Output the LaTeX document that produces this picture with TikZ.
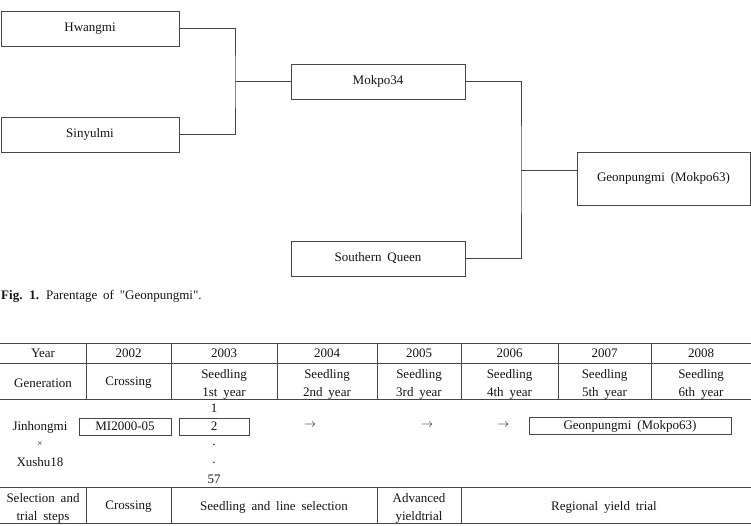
\documentclass[tikz,border=0pt]{standalone}
\usepackage{fontspec}
\setmainfont{Liberation Serif}[WordSpace=1.8]
\usepackage{tikz}
\usetikzlibrary{positioning, calc}
\definecolor{mydark}{RGB}{20,20,20}
\definecolor{myline}{RGB}{70,70,70}
\tikzset{
  cultivar/.style={rectangle, draw=myline, fill=white, line width=0.9pt,
    minimum height=35pt, inner sep=0pt, text=mydark,
    font=\fontsize{13}{15}\selectfont},
  cell/.style={inner sep=0pt, align=center, text=mydark,
    font=\fontsize{13}{18}\selectfont},
  linebox/.style={rectangle, draw=myline, line width=0.9pt, inner sep=0pt,
    minimum height=17pt, text=mydark, font=\fontsize{13}{15}\selectfont},
  link/.style={draw=myline, line width=0.9pt},
  rule/.style={draw=myline, line width=0.9pt}
}

\begin{document}
\begin{tikzpicture}[x=1pt, y=-1pt]
  \useasboundingbox (0,0) rectangle (751,525);

  % Parentage tree
  \node[cultivar, minimum width=178pt] (hwangmi) at (90,28.5) {Hwangmi};
  \node[cultivar, minimum width=178pt] (sinyulmi) at (90,134.5) {Sinyulmi};
  \node[cultivar, minimum width=174pt] (mokpo34) at (378,81.5) {Mokpo34};
  \node[cultivar, minimum width=174pt] (squeen) at (378,258.5) {Southern Queen};
  \node[cultivar, minimum width=173pt, minimum height=53pt] (geon) at (663.5,178.5) {Geonpungmi (Mokpo63)};

  \coordinate (j1) at (235,81.5);
  \coordinate (j2) at (521,170);

  % Crosses
  \draw[link] (hwangmi.east) -| (j1) |- (sinyulmi.east);
  \draw[link] (j1) -- (mokpo34.west);
  \draw[link] (mokpo34.east) -| (j2) |- (squeen.east);
  \draw[link] (j2) -- (geon.west |- j2);

  % Caption
  \node[cell, anchor=west] (caption) at (1,296) {\textbf{Fig. 1.} Parentage of \textquotedbl Geonpungmi\textquotedbl .};

  % Table rules
  \foreach \y in {343,363,399,487,523}
    \draw[rule] (0,\y) -- (751,\y);
  \foreach \x in {86,171,277,377,461,558,651}
    \draw[rule] (\x,343) -- (\x,399);
  \foreach \x in {86,171,377,461}
    \draw[rule] (\x,487) -- (\x,523);

  % Header rows
  \node[cell] (year) at (43,353) {Year};
  \node[cell] (y2002) at (128.5,353) {2002};
  \node[cell] (y2003) at (224,353) {2003};
  \node[cell] (y2004) at (327,353) {2004};
  \node[cell] (y2005) at (419,353) {2005};
  \node[cell] (y2006) at (509.5,353) {2006};
  \node[cell] (y2007) at (604.5,353) {2007};
  \node[cell] (y2008) at (701,353) {2008};

  \node[cell] (gen) at (43,383) {Generation};
  \node[cell] (g2002) at (128.5,383) {Crossing};
  \node[cell] (g2003) at (224,384.5) {Seedling\\1st year};
  \node[cell] (g2004) at (327,384.5) {Seedling\\2nd year};
  \node[cell] (g2005) at (419,384.5) {Seedling\\3rd year};
  \node[cell] (g2006) at (509.5,384.5) {Seedling\\4th year};
  \node[cell] (g2007) at (604.5,384.5) {Seedling\\5th year};
  \node[cell] (g2008) at (701,384.5) {Seedling\\6th year};

  % Selection flow
  \node[cell] (jin) at (40,427) {Jinhongmi};
  \node[cell] (times) at (40,444) {\fontsize{9}{9}\selectfont ×};
  \node[cell] (xushu) at (40,462) {Xushu18};
  \node[linebox, minimum width=92pt] (mi2000) at (125,426.5) {MI2000-05};
  \node[cell] (n1) at (214,408) {1};
  \node[linebox, minimum width=70pt] (n2) at (214,426.5) {2};
  \node[cell] (dot1) at (214,445) {.};
  \node[cell] (dot2) at (214,463) {.};
  \node[cell] (n57) at (214,479) {57};
  \node[cell] (arr1) at (310,425) {$\rightarrow$};
  \node[cell] (arr2) at (427,425) {$\rightarrow$};
  \node[cell] (arr3) at (503,425) {$\rightarrow$};
  \node[linebox, minimum width=202pt] (final) at (630,426) {Geonpungmi (Mokpo63)};

  % Steps row
  \node[cell] (steps) at (43,508) {Selection and\\trial steps};
  \node[cell] (s2002) at (128.5,507) {Crossing};
  \node[cell] (sline) at (274,507) {Seedling and line selection};
  \node[cell] (sadv) at (419,508) {Advanced\\yieldtrial};
  \node[cell] (sreg) at (604,507) {Regional yield trial};
\end{tikzpicture}
\end{document}
